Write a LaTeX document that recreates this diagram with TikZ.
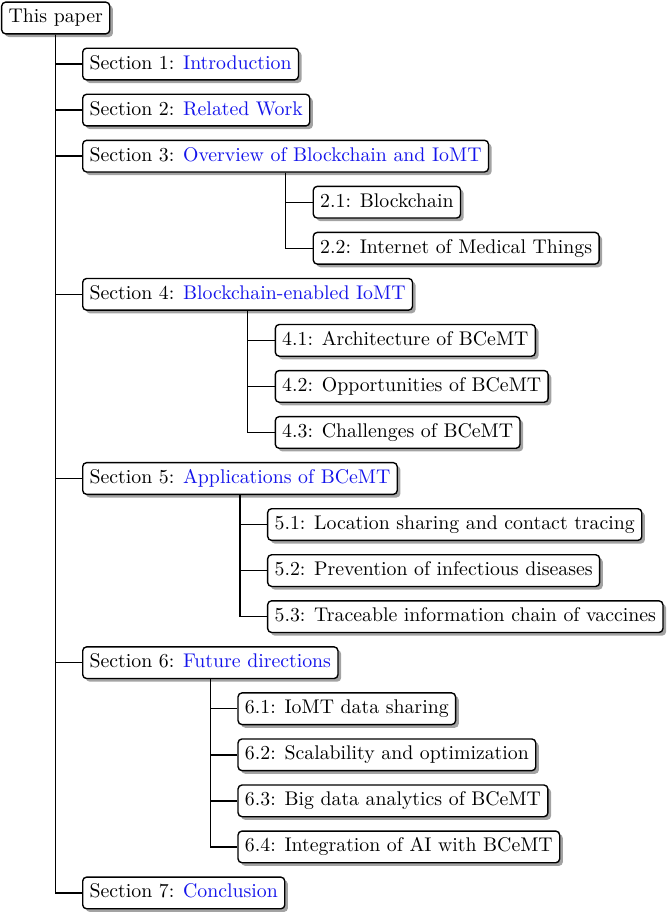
\documentclass[tikz,border=0pt]{standalone}
\usetikzlibrary{shadows,calc}
\definecolor{secblue}{RGB}{20,20,235}
\begin{document}
\begin{tikzpicture}[x=0.505pt,y=-0.505pt,
  box/.style={draw, rounded corners=2pt, fill=white, line width=0.7pt,
    text height=7pt, text depth=2pt, inner sep=3.5pt, anchor=west,
    drop shadow={shadow xshift=1.6pt, shadow yshift=-1.6pt, fill=black!60, opacity=0.6}},
  link/.style={line width=0.7pt}]
\useasboundingbox (0,0) rectangle (667,914);
\newcommand{\hl}[1]{\textcolor{secblue}{#1}}
% level 0
\node[box] (root) at (1,18) {This paper};
% level 1
\node[box] (s1) at (82,64.05) {Section 1: \hl{Introduction}};
\node[box] (s2) at (82,110.1) {Section 2: \hl{Related Work}};
\node[box] (s3) at (82,156.15) {Section 3: \hl{Overview of Blockchain and IoMT}};
\node[box] (s4) at (82,294.3) {Section 4: \hl{Blockchain-enabled IoMT}};
\node[box] (s5) at (82,478.5) {Section 5: \hl{Applications of BCeMT}};
\node[box] (s6) at (82,662.7) {Section 6: \hl{Future directions}};
\node[box] (s7) at (82,892.95) {Section 7: \hl{Conclusion}};
% level 2 anchors
\path (s3.south) ++(27,0) coordinate (c3);
\path (s4.south) ++(27,0) coordinate (c4);
\path (s5.south) ++(27,0) coordinate (c5);
\path (s6.south) ++(27,0) coordinate (c6);
\node[box] (s31) at (c3 |- 0,202.2) {2.1: Blockchain};
\node[box] (s32) at (c3 |- 0,248.25) {2.2: Internet of Medical Things};
\node[box] (s41) at (c4 |- 0,340.35) {4.1: Architecture of BCeMT};
\node[box] (s42) at (c4 |- 0,386.4) {4.2: Opportunities of BCeMT};
\node[box] (s43) at (c4 |- 0,432.45) {4.3: Challenges of BCeMT};
\node[box] (s51) at (c5 |- 0,524.55) {5.1: Location sharing and contact tracing};
\node[box] (s52) at (c5 |- 0,570.6) {5.2: Prevention of infectious diseases};
\node[box] (s53) at (c5 |- 0,616.65) {5.3: Traceable information chain of vaccines};
\node[box] (s61) at (c6 |- 0,708.75) {6.1: IoMT data sharing};
\node[box] (s62) at (c6 |- 0,754.8) {6.2: Scalability and optimization};
\node[box] (s63) at (c6 |- 0,800.85) {6.3: Big data analytics of BCeMT};
\node[box] (s64) at (c6 |- 0,846.9) {6.4: Integration of AI with BCeMT};
% connectors
\foreach \c in {s1,s2,s3,s4,s5,s6,s7} \draw[link] (root.south) |- (\c.west);
\foreach \c in {s31,s32} \draw[link] (s3.south) |- (\c.west);
\foreach \c in {s41,s42,s43} \draw[link] (s4.south) |- (\c.west);
\foreach \c in {s51,s52,s53} \draw[link] (s5.south) |- (\c.west);
\foreach \c in {s61,s62,s63,s64} \draw[link] (s6.south) |- (\c.west);
\end{tikzpicture}
\end{document}
